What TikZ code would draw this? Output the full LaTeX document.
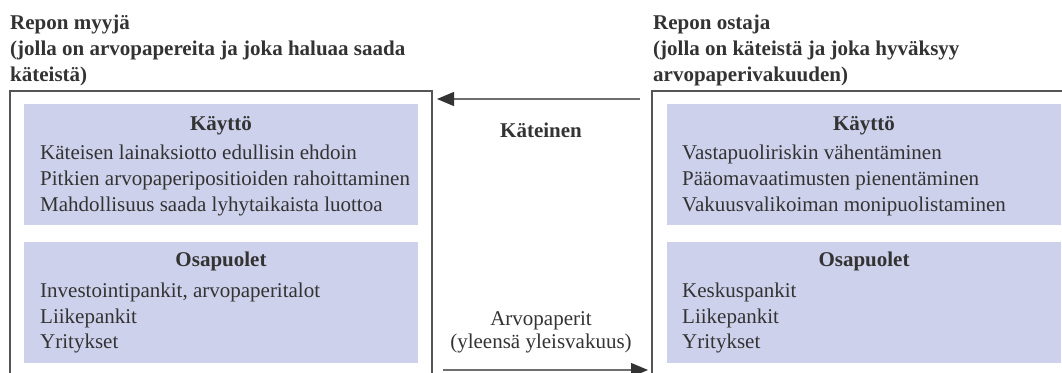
\documentclass[tikz,border=0pt]{standalone}
\usepackage{fontspec}
\setmainfont{Liberation Serif}
\usetikzlibrary{arrows.meta}
\definecolor{panelblue}{RGB}{205,209,235}
\definecolor{ink}{RGB}{51,51,51}
\definecolor{framegray}{RGB}{85,85,85}
\definecolor{flowgray}{RGB}{110,110,110}
\begin{document}
\begin{tikzpicture}[x=1pt,y=-1pt,
  txt/.style={anchor=base west, inner sep=0pt, text=ink, font=\fontsize{21}{24}\selectfont},
  head/.style={anchor=base, inner sep=0pt, text=ink, font=\fontsize{21}{24}\selectfont\bfseries},
  ttl/.style={anchor=base west, inner sep=0pt, text=ink, font=\fontsize{21}{24}\selectfont\bfseries},
  mid/.style={anchor=base, inner sep=0pt, text=ink, font=\fontsize{21}{24}\selectfont},
  panel/.style={fill=panelblue, draw=none, inner sep=0pt, anchor=north west, minimum width=394pt},
  outer/.style={draw=framegray, line width=1.3pt},
  flow/.style={draw=flowgray, line width=1.3pt, -{Triangle[length=17pt,width=14pt,color=ink]}}
]
\clip (0,0) rectangle (1062,372);

% party titles
\node[ttl] (sellA) at (10,29) {Repon myyjä};
\node[ttl] (sellB) at (10,55) {(jolla on arvopapereita ja joka haluaa saada};
\node[ttl] (sellC) at (10,81) {käteistä)};
\node[ttl] (buyA) at (653,29) {Repon ostaja};
\node[ttl] (buyB) at (653,55) {(jolla on käteistä ja joka hyväksyy};
\node[ttl] (buyC) at (653,81) {arvopaperivakuuden)};

% outer frames (open towards the bottom and right edge)
\draw[outer] (10,390) -- (10,91) -- (432,91) -- (432,390);
\draw[outer] (652,390) -- (652,91) -- (1080,91) -- (1080,390);

% shaded panels
\node[panel, minimum height=121pt] (sellUse) at (24,104) {};
\node[panel, minimum height=121pt] (sellParty) at (24,242) {};
\node[panel, minimum height=121pt] (buyUse) at (667,104) {};
\node[panel, minimum height=121pt] (buyParty) at (667,242) {};

% seller: use
\node[head] (sellUseH) at (221,130) {Käyttö};
\node[txt] (su1) at (40,159) {Käteisen lainaksiotto edullisin ehdoin};
\node[txt] (su2) at (40,185) {Pitkien arvopaperipositioiden rahoittaminen};
\node[txt] (su3) at (40,211) {Mahdollisuus saada lyhytaikaista luottoa};
% seller: parties
\node[head] (sellPartyH) at (221,266) {Osapuolet};
\node[txt] (sp1) at (40,297) {Investointipankit, arvopaperitalot};
\node[txt] (sp2) at (40,323) {Liikepankit};
\node[txt] (sp3) at (40,348) {Yritykset};

% buyer: use
\node[head] (buyUseH) at (864,130) {Käyttö};
\node[txt] (bu1) at (682,159) {Vastapuoliriskin vähentäminen};
\node[txt] (bu2) at (682,185) {Pääomavaatimusten pienentäminen};
\node[txt] (bu3) at (682,211) {Vakuusvalikoiman monipuolistaminen};
% buyer: parties
\node[head] (buyPartyH) at (864,266) {Osapuolet};
\node[txt] (bp1) at (682,297) {Keskuspankit};
\node[txt] (bp2) at (682,323) {Liikepankit};
\node[txt] (bp3) at (682,348) {Yritykset};

% flows between the parties
\coordinate (cashFrom) at (640,99);
\coordinate (cashTo) at (437,99);
\coordinate (secFrom) at (443,370);
\coordinate (secTo) at (648,370);
\draw[flow] (cashFrom) -- (cashTo);
\draw[flow] (secFrom) -- (secTo);
\node[mid, font=\fontsize{21}{24}\selectfont\bfseries] (cash) at (541,137) {Käteinen};
\node[mid] (secA) at (541,325) {Arvopaperit};
\node[mid] (secB) at (541,348) {(yleensä yleisvakuus)};
\end{tikzpicture}
\end{document}
